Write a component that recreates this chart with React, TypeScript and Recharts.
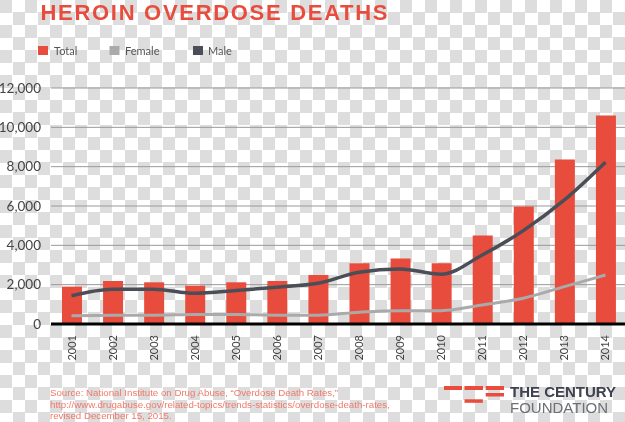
import { ComposedChart, Bar, Line, XAxis, YAxis, CartesianGrid } from 'recharts';

const years = ['2001', '2002', '2003', '2004', '2005', '2006', '2007', '2008', '2009', '2010', '2011', '2012', '2013', '2014'];
const total = [1900, 2190, 2120, 1950, 2120, 2190, 2490, 3090, 3330, 3090, 4500, 5970, 8370, 10600];
const male = [1440, 1770, 1770, 1560, 1700, 1870, 2070, 2630, 2800, 2530, 3510, 4750, 6310, 8230];
const female = [420, 450, 450, 480, 480, 450, 450, 600, 680, 680, 970, 1310, 1900, 2490];
const yTicks = [0, 2000, 4000, 6000, 8000, 10000, 12000];

const data = years.map((year, i) => ({ year, total: total[i], male: male[i], female: female[i] }));

const RED = '#e84c3d';
const GRAY = '#aaaaaa';
const DARK = '#4b4e57';

const YearTick = (props: any) => {
    const { x, y, payload } = props;
    return (
        <text
            transform={`translate(${x + 4},${y + 3}) rotate(-90)`}
            textAnchor="end"
            fontSize={11}
            fill="#444"
            fontFamily="Lato, sans-serif"
        >
            {payload.value}
        </text>
    );
};

export default function App() {
    return (
        <div
            style={{
                position: 'fixed',
                left: 0,
                top: 0,
                width: 625,
                height: 422,
                overflow: 'hidden',
                background: 'conic-gradient(#fff 25%, #dddddd 0 50%, #fff 0 75%, #dddddd 0) 0 0 / 25px 25px',
            }}
        >
            <div style={{ position: 'absolute', left: 0, top: 0 }}>
                <ComposedChart width={626} height={422} data={data} margin={{ top: 88, right: 0, left: 0, bottom: 58 }}>
                    <CartesianGrid vertical={false} stroke="#999" />
                    <XAxis
                        dataKey="year"
                        interval={0}
                        tickLine={false}
                        axisLine={{ stroke: '#000', strokeWidth: 3 }}
                        tick={<YearTick />}
                        height={40}
                    />
                    <YAxis
                        width={51}
                        domain={[0, 12000]}
                        ticks={yTicks}
                        axisLine={false}
                        tickLine={false}
                        tickSize={0}
                        tickMargin={10}
                        tickFormatter={(v: number) => v.toLocaleString('en-US')}
                        tick={{ fontSize: 13.5, fill: '#444', fontFamily: 'Lato, sans-serif' }}
                    />
                    <Bar dataKey="total" fill={RED} barSize={20} isAnimationActive={false} />
                    <Line type="monotone" dataKey="female" stroke={GRAY} strokeWidth={3} dot={false} isAnimationActive={false} />
                    <Line type="monotone" dataKey="male" stroke={DARK} strokeWidth={3.5} dot={false} isAnimationActive={false} />
                </ComposedChart>
            </div>
            <svg width={625} height={422} style={{ position: 'absolute', left: 0, top: 0, pointerEvents: 'none' }}>
                <text x={40.5} y={19.5} fontSize={22} fontWeight="bold" letterSpacing={1.7} fill={RED} fontFamily="'Liberation Sans', Arial, sans-serif">
                    HEROIN OVERDOSE DEATHS
                </text>

                <rect x={38} y={46} width={10} height={9} fill={RED} />
                <text x={54} y={55} fontSize={11} fill="#555" fontFamily="Lato, sans-serif">Total</text>
                <rect x={109.5} y={46} width={10} height={9} fill={GRAY} />
                <text x={125} y={55} fontSize={11} fill="#555" fontFamily="Lato, sans-serif">Female</text>
                <rect x={193} y={46} width={10} height={9} fill={DARK} />
                <text x={208} y={55} fontSize={11} fill="#555" fontFamily="Lato, sans-serif">Male</text>

                <g fontSize={9.7} fill="#f07a6a" fontFamily="'Liberation Sans', Arial, sans-serif">
                    <text x={50} y={396}>Source: National Institute on Drug Abuse, “Overdose Death Rates,”</text>
                    <text x={50} y={407.5}>http://www.drugabuse.gov/related-topics/trends-statistics/overdose-death-rates,</text>
                    <text x={50} y={419}>revised December 15, 2015.</text>
                </g>

                <g fill={RED}>
                    <rect x={444} y={386} width={18} height={4} />
                    <rect x={464.5} y={386} width={18.5} height={4} />
                    <rect x={485.7} y={386} width={18.3} height={4} />
                    <rect x={485.7} y={393} width={18.3} height={3.5} />
                    <rect x={464.5} y={399.3} width={18.3} height={3.5} />
                </g>
                <text x={510} y={397.3} fontSize={15} fontWeight="bold" fill="#3d4150" fontFamily="'Liberation Sans', Arial, sans-serif">
                    THE CENTURY
                </text>
                <text x={510} y={413.3} fontSize={15} fill="#6d6f77" fontFamily="'Liberation Sans', Arial, sans-serif">
                    FOUNDATION
                </text>
            </svg>
        </div>
    );
}
